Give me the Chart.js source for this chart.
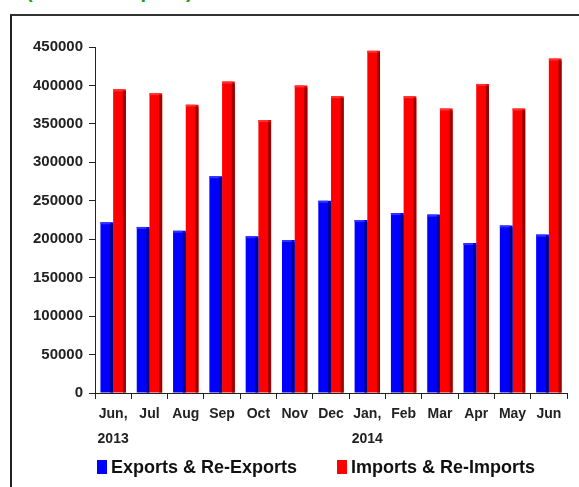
<!DOCTYPE html>
<html>
<head>
<meta charset="utf-8">
<script src="https://cdn.jsdelivr.net/npm/chart.js@4"></script>
<style>
    body { margin: 0; background: #fff; width: 579px; height: 487px; overflow: hidden; position: relative; }
    .title { position: absolute; left: 26px; top: -19px; font: bold 20px 'Liberation Sans', Arial, sans-serif; line-height: 20px; color: #16a016; white-space: nowrap; }
    .frame { position: absolute; left: 10px; top: 14px; width: 600px; height: 500px; border-left: 2px solid #222; border-top: 2px solid #333; }
    #wrap { position: absolute; left: 0; top: 0; width: 579px; height: 487px; }
    .legend { position: absolute; top: 457px; font: bold 18px 'Liberation Sans', Arial, sans-serif; color: #111; white-space: nowrap; }
    .legend span.box { display: inline-block; width: 10px; height: 14px; margin-right: 4px; vertical-align: -1px; }
</style>
</head>
<body>
<div class="title">(Value in Rupees)</div>
<div class="frame"></div>
<div id="wrap"><canvas id="tradeChart"></canvas></div>
<div class="legend" style="left:97px"><span class="box" style="background:#0000ff"></span>Exports &amp; Re-Exports</div>
<div class="legend" style="left:337px"><span class="box" style="background:#ff0000"></span>Imports &amp; Re-Imports</div>
<script>
// 月份标签
const months = [['Jun,', '2013'], 'Jul', 'Aug', 'Sep', 'Oct', 'Nov', 'Dec', ['Jan,', '2014'], 'Feb', 'Mar', 'Apr', 'May', 'Jun'];
// 出口及再出口
const exportsData = [222000, 216000, 211000, 282000, 204000, 199000, 250000, 225000, 234000, 232000, 195000, 218000, 206000];
// 进口及再进口
const importsData = [395000, 390000, 375000, 405000, 355000, 400000, 386000, 445000, 386000, 370000, 402000, 370000, 435000];
const yTicks = [0, 50000, 100000, 150000, 200000, 250000, 300000, 350000, 400000, 450000];

const fontFamily = "'Liberation Sans', Arial, sans-serif";

// 简单的立体效果:柱子右侧加深色边
const shade3d = {
    id: 'shade3d',
    afterDatasetsDraw(chart) {
        const ctx = chart.ctx;
        const darks = ['#00008b', '#990000'];
        chart.data.datasets.forEach((ds, i) => {
            chart.getDatasetMeta(i).data.forEach(bar => {
                const right = bar.x + bar.width / 2;
                const h = bar.base - bar.y;
                ctx.save();
                ctx.fillStyle = darks[i];
                ctx.fillRect(right - 3, bar.y + 2, 3, h - 2);
                ctx.fillStyle = i === 0 ? '#3333ff' : '#ff3333';
                ctx.fillRect(bar.x - bar.width / 2, bar.y, bar.width - 3, 2);
                ctx.restore();
            });
        });
    }
};

const ctx = document.getElementById('tradeChart').getContext('2d');
new Chart(ctx, {
    type: 'bar',
    data: {
        labels: months,
        datasets: [
            {
                label: 'Exports & Re-Exports',
                data: exportsData,
                backgroundColor: '#0000ff',
                borderWidth: 0,
                categoryPercentage: 0.7,
                barPercentage: 1.0
            },
            {
                label: 'Imports & Re-Imports',
                data: importsData,
                backgroundColor: '#ff0000',
                borderWidth: 0,
                categoryPercentage: 0.7,
                barPercentage: 1.0
            }
        ]
    },
    options: {
        responsive: true,
        maintainAspectRatio: false,
        animation: false,
        layout: {
            padding: { top: 47, right: 12, bottom: 0, left: 0 }
        },
        plugins: {
            legend: { display: false },
            tooltip: { enabled: false }
        },
        scales: {
            y: {
                min: 0,
                max: 450000,
                afterBuildTicks: scale => { scale.ticks = yTicks.map(v => ({ value: v })); },
                afterFit: scale => { scale.width = 95; },
                border: { color: '#222', width: 1 },
                grid: { drawOnChartArea: false, tickLength: 6, color: '#222' },
                ticks: {
                    color: '#222',
                    padding: 6,
                    callback: value => String(value),
                    font: { family: fontFamily, size: 15, weight: 'bold' }
                }
            },
            x: {
                afterFit: scale => { scale.height = 94; },
                border: { color: '#222', width: 1 },
                grid: { drawOnChartArea: false, tickLength: 6, color: '#222', offset: true },
                ticks: {
                    color: '#222',
                    padding: 3,
                    maxRotation: 0,
                    autoSkip: false,
                    font: { family: fontFamily, size: 14, weight: 'bold', lineHeight: 1.75 }
                }
            }
        }
    },
    plugins: [shade3d]
});
</script>
</body>
</html>
